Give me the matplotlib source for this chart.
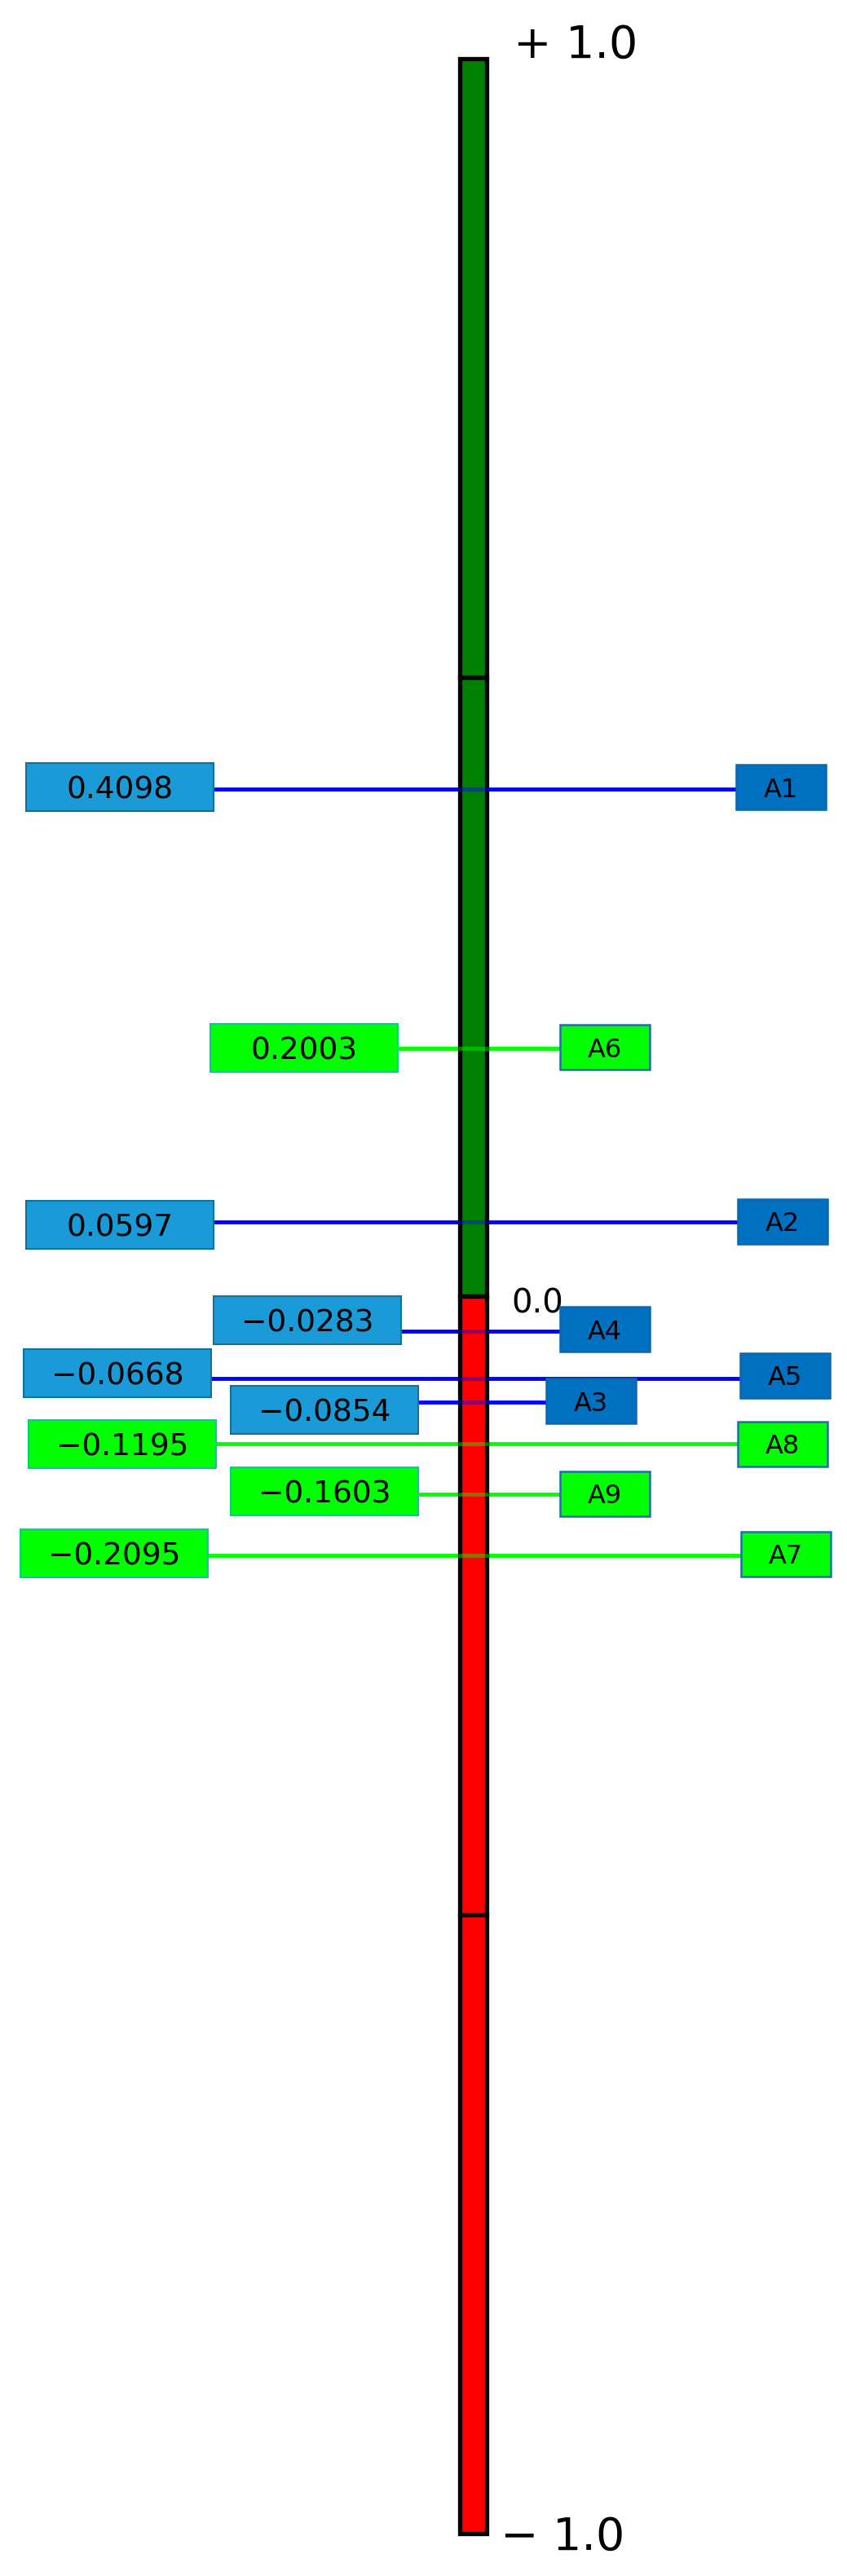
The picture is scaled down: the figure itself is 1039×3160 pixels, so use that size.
import matplotlib
matplotlib.use("Agg")
import matplotlib.pyplot as plt
from matplotlib.patches import Rectangle

# scores of the nine alternatives, top to bottom
names = ["A1", "A6", "A2", "A4", "A5", "A3", "A8", "A9", "A7"]
scores = [0.4098, 0.2003, 0.0597, -0.0283, -0.0668, -0.0854, -0.1195, -0.1603, -0.2095]
groups = ["blue", "green", "blue", "blue", "blue", "blue", "green", "green", "green"]

# scale bar split points and colours
bar_edges = [1.0, 0.5, 0.0, -0.5, -1.0]
bar_colors = ["#008000", "#008000", "#ff0000", "#ff0000"]

# layout (pixels): left edge of value box / name box, vertical nudge of boxes
val_x = [32, 258, 32, 262, 29, 283, 35, 283, 25]
name_x = [903, 687, 905, 687, 908, 670, 905, 687, 909]
val_nudge = [2, 0, -3, 13, 7, -10, 0, 4, 3]
name_nudge = [2, 1, 1, 2, 4, 1, 0, 1, 2]

PX = 1518.0  # pixels per score unit
VAL_W, VAL_H = 230, 59
NAME_W, NAME_H = 110, 55

styles = {
    "blue": dict(line="#0000ff", vface="#1a9bd7", vedge="#136f9e",
                 nface="#0070c0", nedge="#0b68b0"),
    "green": dict(line="#00ff00", vface="#00ff00", vedge="#00d08a",
                  nface="#00ff00", nedge="#1f6ea8"),
}

plt.rcParams["font.family"] = ["DejaVu Sans"]
fig = plt.figure(figsize=(10.39, 31.6), dpi=100)
ax = fig.add_axes([0, 0, 1, 1])
ax.set_xlim(0, 1039)
ax.set_ylim(-(3160 - 1590) / PX, 1590 / PX)
ax.axis("off")

# the vertical scale bar
bx0, bw = 564, 33
for top, bot, col in zip(bar_edges[:-1], bar_edges[1:], bar_colors):
    ax.add_patch(Rectangle((bx0, bot), bw, top - bot, facecolor=col,
                           edgecolor="black", linewidth=3.8, zorder=2))

ax.text(630, bar_edges[0] + 1 / PX, "+ 1.0", fontsize=40, ha="left",
        va="baseline", zorder=5)
ax.text(614, bar_edges[-1] - 20 / PX, "\u2212 1.0", fontsize=40, ha="left",
        va="baseline", zorder=5)
ax.text(627, bar_edges[2] - 20 / PX, "0.0", fontsize=29, ha="left",
        va="baseline", zorder=1)

for i, (nm, sc, g) in enumerate(zip(names, scores, groups)):
    st = styles[g]
    x_start = val_x[i] + VAL_W
    x_end = name_x[i]
    # line under the bar, plus a faint copy above so it shows through
    ax.plot([x_start, x_end], [sc, sc], color=st["line"], linewidth=3.5,
            solid_capstyle="butt", zorder=1)
    ax.plot([bx0 - 2, bx0 + bw + 2], [sc, sc], color=st["line"], linewidth=3.5,
            alpha=0.45, solid_capstyle="butt", zorder=3)

    vy = sc + val_nudge[i] / PX
    ax.add_patch(Rectangle((val_x[i], vy - VAL_H / 2 / PX), VAL_W, VAL_H / PX,
                           facecolor=st["vface"], edgecolor=st["vedge"],
                           linewidth=1.5, zorder=4))
    label = f"{sc:.4f}".replace("-", "\u2212")
    ax.text(val_x[i] + VAL_W / 2, vy, label, fontsize=27, ha="center",
            va="center_baseline", zorder=5)

    ny = sc + name_nudge[i] / PX
    ax.add_patch(Rectangle((name_x[i], ny - NAME_H / 2 / PX), NAME_W, NAME_H / PX,
                           facecolor=st["nface"], edgecolor=st["nedge"],
                           linewidth=1.8, zorder=4))
    ax.text(name_x[i] + NAME_W / 2, ny, nm, fontsize=23, ha="center",
            va="center_baseline", zorder=5)

fig.savefig("out.png", dpi=100, facecolor="white")
plt.close(fig)
